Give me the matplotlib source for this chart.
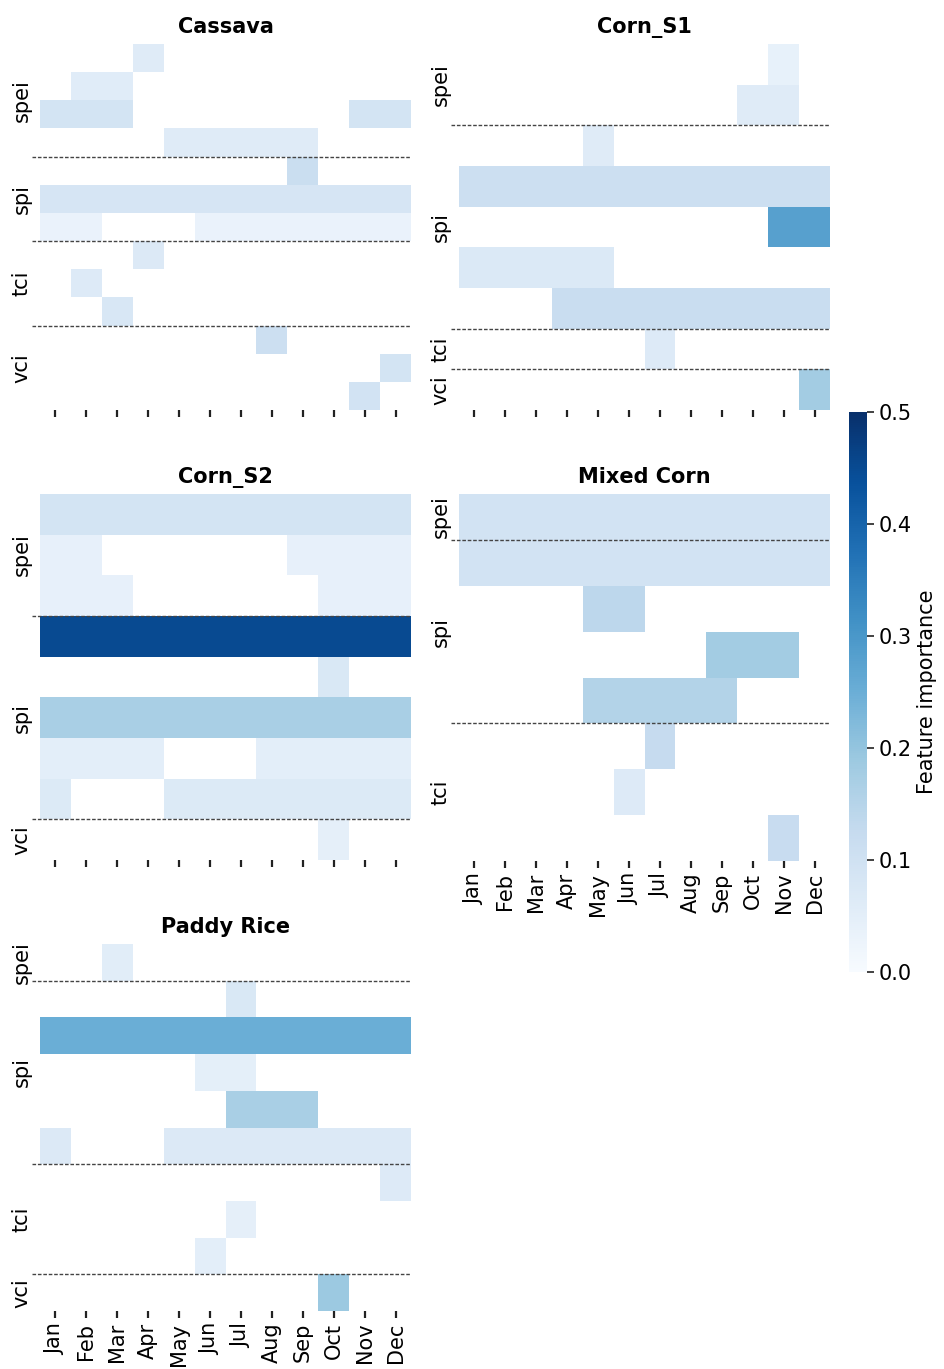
import numpy as np
import matplotlib
matplotlib.use("Agg")
import matplotlib.pyplot as plt
from matplotlib.colors import Normalize
from matplotlib.cm import ScalarMappable

_ = np.nan

months = ["Jan", "Feb", "Mar", "Apr", "May", "Jun",
          "Jul", "Aug", "Sep", "Oct", "Nov", "Dec"]

# ---- Cassava --------------------------------------------------------------
cassava_groups = [("spei", 4), ("spi", 3), ("tci", 3), ("vci", 3)]
cassava = [
    [_, _, _, .062, _, _, _, _, _, _, _, _],
    [_, .058, .058, _, _, _, _, _, _, _, _, _],
    [.09, .09, .09, _, _, _, _, _, _, _, .09, .09],
    [_, _, _, _, .062, .062, .062, .062, .062, _, _, _],
    [_, _, _, _, _, _, _, _, .115, _, _, _],
    [.085, .085, .085, .085, .085, .085, .085, .085, .085, .085, .085, .085],
    [.035, .035, _, _, _, .035, .035, .035, .035, .035, .035, .035],
    [_, _, _, .07, _, _, _, _, _, _, _, _],
    [_, .065, _, _, _, _, _, _, _, _, _, _],
    [_, _, .08, _, _, _, _, _, _, _, _, _],
    [_, _, _, _, _, _, _, .11, _, _, _, _],
    [_, _, _, _, _, _, _, _, _, _, _, .09],
    [_, _, _, _, _, _, _, _, _, _, .095, _],
]

# ---- Corn_S1 --------------------------------------------------------------
corn_s1_groups = [("spei", 2), ("spi", 5), ("tci", 1), ("vci", 1)]
corn_s1 = [
    [_, _, _, _, _, _, _, _, _, _, .04, _],
    [_, _, _, _, _, _, _, _, _, .062, .062, _],
    [_, _, _, _, .062, _, _, _, _, _, _, _],
    [.11, .11, .11, .11, .11, .11, .11, .11, .11, .11, .11, .11],
    [_, _, _, _, _, _, _, _, _, _, .28, .28],
    [.072, .072, .072, .072, .072, _, _, _, _, _, _, _],
    [_, _, _, .118, .118, .118, .118, .118, .118, .118, .118, .118],
    [_, _, _, _, _, _, .065, _, _, _, _, _],
    [_, _, _, _, _, _, _, _, _, _, _, .18],
]

# ---- Corn_S2 --------------------------------------------------------------
corn_s2_groups = [("spei", 3), ("spi", 5), ("vci", 1)]
corn_s2 = [
    [.09, .09, .09, .09, .09, .09, .09, .09, .09, .09, .09, .09],
    [.042, .042, _, _, _, _, _, _, .042, .042, .042, .042],
    [.042, .042, .042, _, _, _, _, _, _, .042, .042, .042],
    [.45, .45, .45, .45, .45, .45, .45, .45, .45, .45, .45, .45],
    [_, _, _, _, _, _, _, _, _, .075, _, _],
    [.17, .17, .17, .17, .17, .17, .17, .17, .17, .17, .17, .17],
    [.05, .05, .05, .05, _, _, _, .05, .05, .05, .05, .05],
    [.068, _, _, _, .068, .068, .068, .068, .068, .068, .068, .068],
    [_, _, _, _, _, _, _, _, _, .045, _, _],
]

# ---- Mixed Corn -----------------------------------------------------------
mixed_corn_groups = [("spei", 1), ("spi", 4), ("tci", 3)]
mixed_corn = [
    [.095, .095, .095, .095, .095, .095, .095, .095, .095, .095, .095, .095],
    [.095, .095, .095, .095, .095, .095, .095, .095, .095, .095, .095, .095],
    [_, _, _, _, .14, .14, _, _, _, _, _, _],
    [_, _, _, _, _, _, _, _, .18, .18, .18, _],
    [_, _, _, _, .155, .155, .155, .155, .155, _, _, _],
    [_, _, _, _, _, _, .125, _, _, _, _, _],
    [_, _, _, _, _, .065, _, _, _, _, _, _],
    [_, _, _, _, _, _, _, _, _, _, .12, _],
]

# ---- Paddy Rice -----------------------------------------------------------
paddy_rice_groups = [("spei", 1), ("spi", 5), ("tci", 3), ("vci", 1)]
paddy_rice = [
    [_, _, .055, _, _, _, _, _, _, _, _, _],
    [_, _, _, _, _, _, .075, _, _, _, _, _],
    [.25, .25, .25, .25, .25, .25, .25, .25, .25, .25, .25, .25],
    [_, _, _, _, _, .048, .048, _, _, _, _, _],
    [_, _, _, _, _, _, .17, .17, .17, _, _, _],
    [.07, _, _, _, .07, .07, .07, .07, .07, .07, .07, .07],
    [_, _, _, _, _, _, _, _, _, _, _, .065],
    [_, _, _, _, _, _, .045, _, _, _, _, _],
    [_, _, _, _, _, .05, _, _, _, _, _, _],
    [_, _, _, _, _, _, _, _, _, .19, _, _],
]

VMIN, VMAX = 0.0, 0.5
CMAP = "Blues"
FS = 15

fig = plt.figure(figsize=(9.44, 13.69), dpi=100)

W, H = 944.0, 1369.0


def add_axes_px(x0, y0, x1, y1):
    return fig.add_axes([x0 / W, 1 - y1 / H, (x1 - x0) / W, (y1 - y0) / H])


def draw_panel(ax, title, values, groups, show_months):
    data = np.ma.masked_invalid(np.array(values, dtype=float))
    nrows = data.shape[0]
    ax.pcolormesh(np.arange(13), np.arange(nrows + 1), data,
                  cmap=CMAP, vmin=VMIN, vmax=VMAX,
                  edgecolors="none", linewidth=0, antialiased=False)
    ax.set_xlim(0, 12)
    ax.set_ylim(nrows, 0)
    for s in ax.spines.values():
        s.set_visible(False)

    # group separators and group labels
    centers, names = [], []
    start = 0
    for i, (name, n) in enumerate(groups):
        centers.append(start + n / 2)
        names.append(name)
        start += n
        if i < len(groups) - 1:
            ax.plot([-0.26, 12], [start, start], color="#444444",
                    linewidth=1.0, linestyle=(0, (2.6, 1.3)),
                    clip_on=False, zorder=5)
    ax.set_yticks(centers)
    ax.set_yticklabels(names, rotation=90, va="center", fontsize=FS)
    ax.tick_params(axis="y", length=0, pad=6)

    ax.set_xticks(np.arange(12) + 0.5)
    if show_months:
        ax.set_xticklabels(months, rotation=90, fontsize=FS)
    else:
        ax.set_xticklabels([])
    ax.tick_params(axis="x", length=5, width=1.6, color="#222222")
    ax.set_title(title, fontsize=FS, fontweight="bold", pad=8)


ax1 = add_axes_px(40, 44, 411, 410)
draw_panel(ax1, "Cassava", cassava, cassava_groups, False)

ax2 = add_axes_px(459, 44, 830, 410)
draw_panel(ax2, "Corn_S1", corn_s1, corn_s1_groups, False)

ax3 = add_axes_px(40, 494, 411, 860)
draw_panel(ax3, "Corn_S2", corn_s2, corn_s2_groups, False)

ax4 = add_axes_px(459, 494, 830, 861)
draw_panel(ax4, "Mixed Corn", mixed_corn, mixed_corn_groups, True)

ax5 = add_axes_px(40, 944, 411, 1311)
draw_panel(ax5, "Paddy Rice", paddy_rice, paddy_rice_groups, True)

# shared colour bar
cax = add_axes_px(849, 412, 867, 972)
sm = ScalarMappable(norm=Normalize(VMIN, VMAX), cmap=CMAP)
cb = fig.colorbar(sm, cax=cax)
cb.outline.set_visible(False)
cb.set_ticks([0.0, 0.1, 0.2, 0.3, 0.4, 0.5])
cb.ax.tick_params(labelsize=FS, length=5, width=1.2, color="#222222")
cb.set_label("Feature importance", fontsize=FS)

fig.savefig("out.png", dpi=100)
